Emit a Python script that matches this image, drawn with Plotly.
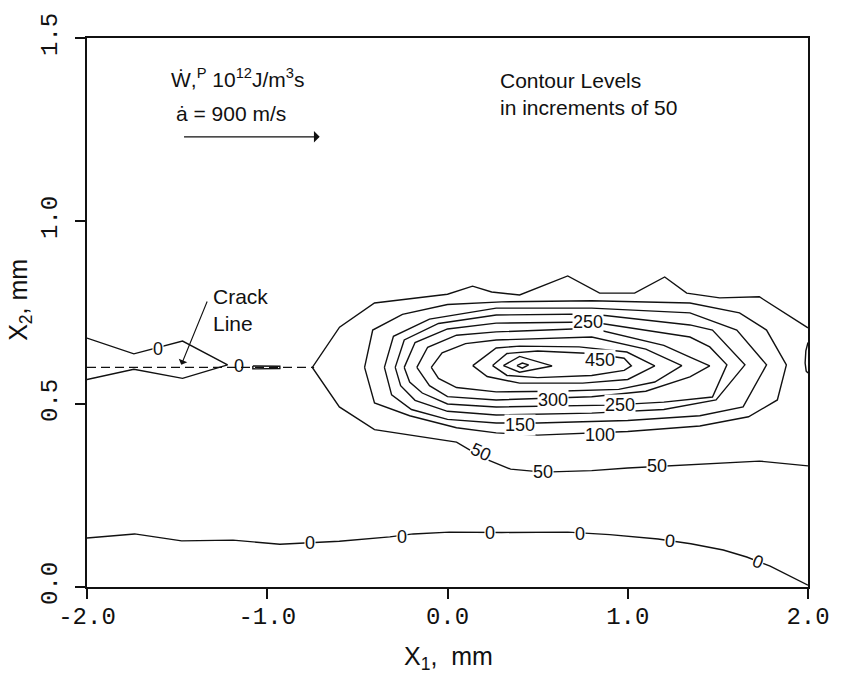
import plotly.graph_objects as go

# ---------------- data ----------------
x_tick_vals = [-2.0, -1.0, 0.0, 1.0, 2.0]
x_tick_text = ["-2.0", "-1.0", "0.0", "1.0", "2.0"]
y_tick_vals = [0.0, 0.5, 1.0, 1.5]
y_tick_text = ["0.0", "0.5", "1.0", "1.5"]

# contour level 50 (outer, leaves through the right edge)
c50_x = [2.0, 1.73, 1.51, 1.327, 1.205, 1.038, 0.844, 0.667, 0.40, 0.245, 0.139, 0.0, -0.405, -0.599, -0.75,
         -0.6, -0.405, 0.05, 0.2, 0.35, 0.53, 0.8, 1.0, 1.3, 1.73, 2.0]
c50_y = [0.708, 0.793, 0.79, 0.803, 0.847, 0.803, 0.803, 0.85, 0.798, 0.806, 0.822, 0.80, 0.776, 0.71, 0.60,
         0.492, 0.43, 0.396, 0.352, 0.322, 0.314, 0.318, 0.325, 0.333, 0.344, 0.331]
# level 100
c100_x = [-0.46, -0.415, -0.25, 0.0, 0.3, 0.8, 1.345, 1.62, 1.77, 1.88,
          1.83, 1.67, 1.4, 1.0, 0.5, 0.27, 0.05, -0.21, -0.405, -0.46]
c100_y = [0.60, 0.702, 0.745, 0.772, 0.779, 0.782, 0.776, 0.749, 0.702, 0.607,
          0.511, 0.465, 0.44, 0.425, 0.415, 0.421, 0.435, 0.468, 0.503, 0.60]
# level 150
c150_x = [-0.35, -0.30, -0.1, 0.27, 0.8, 1.345, 1.605, 1.77,
          1.64, 1.4, 1.0, 0.5, 0.27, 0.0, -0.2, -0.31, -0.35]
c150_y = [0.60, 0.685, 0.732, 0.762, 0.762, 0.749, 0.702, 0.607,
          0.492, 0.468, 0.455, 0.448, 0.448, 0.458, 0.485, 0.525, 0.60]
# level 200
c200_x = [-0.29, -0.24, -0.05, 0.27, 0.8, 1.345, 1.47, 1.65,
          1.49, 1.2, 0.8, 0.27, 0.0, -0.18, -0.26, -0.29]
c200_y = [0.60, 0.675, 0.72, 0.743, 0.746, 0.716, 0.702, 0.607,
          0.511, 0.485, 0.475, 0.470, 0.48, 0.51, 0.55, 0.60]
# level 250
c250_x = [-0.24, -0.18, 0.0, 0.27, 0.8, 1.345, 1.455, 1.55,
          1.47, 1.2, 0.9, 0.27, 0.0, -0.14, -0.21, -0.24]
c250_y = [0.60, 0.668, 0.705, 0.721, 0.724, 0.683, 0.656, 0.607,
          0.519, 0.505, 0.497, 0.492, 0.50, 0.53, 0.56, 0.60]
# level 300
c300_x = [-0.17, -0.11, 0.05, 0.27, 0.8, 1.2, 1.345, 1.455,
          1.345, 1.1, 0.8, 0.27, 0.0, -0.1, -0.17]
c300_y = [0.60, 0.655, 0.688, 0.697, 0.707, 0.66, 0.628, 0.604,
          0.574, 0.535, 0.52, 0.511, 0.52, 0.55, 0.60]
# level 350
c350_x = [-0.09, -0.03, 0.1, 0.27, 0.8, 1.1, 1.30,
          1.15, 0.95, 0.6, 0.27, 0.05, -0.05, -0.09]
c350_y = [0.60, 0.64, 0.665, 0.675, 0.683, 0.65, 0.605,
          0.56, 0.54, 0.535, 0.533, 0.545, 0.57, 0.60]
# level 400
c400_x = [0.14, 0.27, 0.4, 0.73, 0.995, 1.15, 1.0, 0.75, 0.4, 0.22, 0.14]
c400_y = [0.605, 0.653, 0.658, 0.656, 0.642, 0.604, 0.567, 0.557, 0.557, 0.575, 0.605]
# level 450
c450_x = [0.25, 0.33, 0.5, 0.8, 0.98, 1.02, 0.98, 0.8, 0.5, 0.33, 0.25]
c450_y = [0.605, 0.638, 0.645, 0.638, 0.625, 0.604, 0.592, 0.578, 0.572, 0.578, 0.605]
# level 500
c500_x = [0.31, 0.40, 0.58, 0.40, 0.31]
c500_y = [0.605, 0.630, 0.604, 0.587, 0.605]
# level 550
c550_x = [0.385, 0.415, 0.45, 0.415, 0.385]
c550_y = [0.605, 0.612, 0.607, 0.598, 0.605]
# small closed contour touching the right edge
cedge_x = [2.0, 1.988, 1.984, 1.99, 2.0]
cedge_y = [0.668, 0.645, 0.612, 0.59, 0.585]
# zero contour around the crack line
c0crack_x = [-2.0, -1.74, -1.47, -1.22, -1.47, -1.74, -2.0]
c0crack_y = [0.68, 0.637, 0.672, 0.607, 0.570, 0.595, 0.567]
# thin zero sliver on the crack line
c0sliver_x = [-1.08, -0.93, -0.93, -1.08, -1.08]
c0sliver_y = [0.604, 0.603, 0.597, 0.596, 0.604]
# lower zero contour
c0low_x = [-2.0, -1.736, -1.475, -1.19, -0.93, -0.6, -0.32, -0.19, 0.01, 0.3, 0.668, 0.9,
           1.168, 1.35, 1.53, 1.66, 1.79, 2.0]
c0low_y = [0.134, 0.145, 0.126, 0.128, 0.117, 0.125, 0.137, 0.145, 0.15, 0.149, 0.150, 0.143,
           0.131, 0.118, 0.101, 0.082, 0.057, 0.005]
# crack line
crack_x = [-2.0, -0.74]
crack_y = [0.6, 0.6]

# contour labels
lab_text = ["0", "250", "450", "300", "250", "150", "100", "50", "50", "50",
            "0", "0", "0", "0", "0", "0"]
lab_x = [-1.607, 0.78, 0.846, 0.586, 0.957, 0.401, 0.846, 0.185, 0.53, 1.16,
         -0.765, -0.255, 0.235, 0.735, 1.234, 1.725]
lab_y = [0.650, 0.724, 0.620, 0.511, 0.497, 0.443, 0.415, 0.370, 0.313, 0.330,
         0.119, 0.136, 0.147, 0.145, 0.127, 0.069]
lab_angle = [0, 0, 0, 0, 0, 0, 0, 25, 0, 0, 0, 0, 0, 0, 5, 22]

# ---------------- figure ----------------
fig = go.Figure()
LINE = dict(color="#111111", width=1.4)

solid_lines = [
    (c50_x, c50_y), (c100_x, c100_y), (c150_x, c150_y), (c200_x, c200_y),
    (c250_x, c250_y), (c300_x, c300_y), (c350_x, c350_y), (c400_x, c400_y),
    (c450_x, c450_y), (c500_x, c500_y), (c550_x, c550_y), (cedge_x, cedge_y),
    (c0crack_x, c0crack_y), (c0sliver_x, c0sliver_y), (c0low_x, c0low_y),
]
for xs, ys in solid_lines:
    fig.add_trace(go.Scatter(x=xs, y=ys, mode="lines", line=LINE,
                             hoverinfo="skip", showlegend=False))

fig.add_trace(go.Scatter(x=crack_x, y=crack_y, mode="lines",
                         line=dict(color="#111111", width=1.4, dash="9px,5px"),
                         hoverinfo="skip", showlegend=False))

FONT = "Liberation Sans, Arial, sans-serif"
annotations = []
for t, x, y, a in zip(lab_text, lab_x, lab_y, lab_angle):
    annotations.append(dict(x=x, y=y, xref="x", yref="y", text=t, showarrow=False,
                            textangle=a, bgcolor="white", borderpad=0,
                            font=dict(family=FONT, size=18, color="#111")))
# crack-line zero label (dash runs through it)
annotations.append(dict(x=-1.155, y=0.603, xref="x", yref="y", text="0", showarrow=False,
                        font=dict(family=FONT, size=18, color="#111")))

# header texts
annotations.append(dict(x=-1.545, y=1.39, xref="x", yref="y", xanchor="left",
                        text="Ẇ,<sup>P</sup> 10<sup>12</sup>J/m<sup>3</sup>s", showarrow=False,
                        font=dict(family=FONT, size=21, color="#111")))
annotations.append(dict(x=-1.52, y=1.293, xref="x", yref="y", xanchor="left",
                        text="ȧ = 900 m/s", showarrow=False,
                        font=dict(family=FONT, size=21, color="#111")))
annotations.append(dict(x=-0.709, y=1.23, ax=-1.47, ay=1.23, xref="x", yref="y",
                        axref="x", ayref="y", text="", showarrow=True,
                        arrowhead=1, arrowsize=1.6, arrowwidth=1.2, arrowcolor="#111"))
annotations.append(dict(x=0.279, y=1.384, xref="x", yref="y", xanchor="left",
                        text="Contour Levels", showarrow=False,
                        font=dict(family=FONT, size=21, color="#111")))
annotations.append(dict(x=0.279, y=1.309, xref="x", yref="y", xanchor="left",
                        text="in increments of 50", showarrow=False,
                        font=dict(family=FONT, size=21, color="#111")))
annotations.append(dict(x=-1.314, y=0.795, xref="x", yref="y", xanchor="left",
                        text="Crack", showarrow=False,
                        font=dict(family=FONT, size=21, color="#111")))
annotations.append(dict(x=-1.31, y=0.721, xref="x", yref="y", xanchor="left",
                        text="Line", showarrow=False,
                        font=dict(family=FONT, size=21, color="#111")))
annotations.append(dict(x=-1.477, y=0.607, ax=-1.33, ay=0.784, xref="x", yref="y",
                        axref="x", ayref="y", text="", showarrow=True,
                        arrowhead=1, arrowsize=1.4, arrowwidth=1.1, arrowcolor="#111"))

# axis titles
annotations.append(dict(x=0.5007, y=-0.129, xref="paper", yref="paper",
                        xanchor="center", yanchor="middle",
                        text="X<sub>1</sub>,  mm", showarrow=False,
                        font=dict(family=FONT, size=25, color="#111")))
annotations.append(dict(x=-0.093, y=0.523, xref="paper", yref="paper", textangle=-90,
                        xanchor="center", yanchor="middle",
                        text="X<sub>2</sub>, mm", showarrow=False,
                        font=dict(family=FONT, size=25, color="#111")))

TICKFONT = dict(family="Liberation Mono, DejaVu Sans Mono, monospace", size=24, color="#111")
fig.update_layout(
    width=846, height=678,
    margin=dict(l=87, r=38, t=38, b=91),
    paper_bgcolor="white", plot_bgcolor="white",
    annotations=annotations,
    xaxis=dict(range=[-2.0, 2.0], tickvals=x_tick_vals, ticktext=x_tick_text,
               ticks="outside", ticklen=10, tickwidth=1.5, tickcolor="#111",
               showline=True, linewidth=2, linecolor="#111", mirror=True,
               showgrid=False, zeroline=False, tickfont=TICKFONT,
               ticklabelstandoff=-4),
    yaxis=dict(range=[0.0, 1.5], tickvals=y_tick_vals, ticktext=y_tick_text,
               ticks="outside", ticklen=10, tickwidth=1.5, tickcolor="#111",
               showline=True, linewidth=2, linecolor="#111", mirror=True,
               showgrid=False, zeroline=False, tickangle=-90, tickfont=TICKFONT,
               ticklabelstandoff=8),
)

fig.write_html("out.html")
